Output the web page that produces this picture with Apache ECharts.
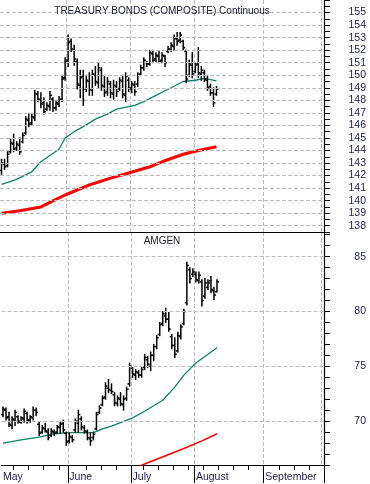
<!DOCTYPE html>
<html>
<head>
<meta charset="utf-8">
<script src="https://cdn.jsdelivr.net/npm/echarts@6/dist/echarts.min.js"></script>
<style>
  html, body { margin: 0; padding: 0; background: #fff; }
  #chart { width: 370px; height: 484px; }
</style>
</head>
<body>
<div id="chart"></div>
<script>
// trading days shown on the x axis (May 1 .. Oct 1)
const tradingDays = [
  ['May', [1,2,3,4,7,8,9,10,11,14,15,16,17,18,21,22,23,24,25,29,30,31]],
  ['June', [1,4,5,6,7,8,11,12,13,14,15,18,19,20,21,22,25,26,27,28,29]],
  ['July', [2,3,5,6,9,10,11,12,13,16,17,18,19,20,23,24,25,26,27,30,31]],
  ['August', [1,2,3,6,7,8,9,10,13,14,15,16,17,20,21,22,23,24,27,28,29,30,31]],
  ['September', [4,5,6,7,10,11,12,13,14,17,18,19,20,21,24,25,26,27,28]],
  ['October', [1]]
];
const weekTicks = [4,9,14,19,28,33,38,47,52,57,62,67,72,77,82,92,97,102];

const bondTicks = [138,139,140,141,142,143,144,145,146,147,148,149,150,151,152,153,154,155];
const amgnTicks = [70,75,80,85];

// treasury bonds OHLC
const bondOpen = [142.4,142.9,142.8,143.9,144.5,144.2,144.4,144.7,145.4,146.4,
  146.2,146.6,148.5,148.0,147.8,147.3,147.5,148.1,147.4,147.7,
  148.1,149.8,151.2,152.7,152.0,151.1,149.2,149.9,148.9,149.5,
  148.8,150.0,149.4,150.4,149.1,148.7,149.3,148.5,149.1,148.9,
  149.5,148.4,149.6,148.9,149.2,149.3,150.1,150.6,151.0,150.9,
  151.7,151.3,151.5,151.2,151.5,151.9,152.0,152.3,152.9,152.8,
  152.7,151.9,150.0,150.8,150.3,150.9,150.1,150.2,149.6,149.1,
  148.6,148.5];
const bondHigh = [143.3,143.3,143.9,144.9,145.3,144.7,145.0,145.4,146.7,146.9,
  146.9,148.8,148.7,148.6,148.2,147.8,148.7,148.2,148.0,148.3,
  150.0,151.4,153.2,152.9,152.4,151.3,150.4,150.4,150.0,150.2,
  150.4,150.7,151.0,150.6,150.0,149.8,149.5,149.6,149.5,149.8,
  150.0,150.2,149.8,149.5,149.5,150.2,150.8,151.4,151.1,152.0,
  152.0,151.8,151.9,151.8,151.6,152.3,152.6,153.2,153.4,153.4,
  152.8,152.0,151.2,151.8,151.0,152.2,150.7,150.4,150.0,149.3,
  149.0,149.1];
const bondLow = [142.1,142.5,142.7,143.8,143.9,144.0,143.7,144.6,145.3,145.9,
  146.0,146.4,147.9,147.4,146.9,147.2,147.2,147.1,147.2,147.5,
  147.9,149.6,150.7,151.9,150.8,148.9,148.2,147.6,148.7,148.4,
  148.4,149.2,149.0,148.8,148.3,148.4,148.2,148.1,148.3,148.8,
  148.2,147.9,148.7,148.6,148.4,149.1,150.0,150.4,150.7,150.8,
  151.0,151.1,151.0,151.0,150.7,151.8,151.9,152.0,152.4,152.6,
  152.0,149.4,149.9,149.8,150.2,149.8,149.6,149.5,148.8,148.4,
  147.5,148.4];
const bondClose = [143.0,142.7,143.7,144.6,144.1,144.5,143.9,145.2,146.5,146.1,
  146.7,148.5,148.1,147.7,147.1,147.6,148.4,147.4,147.8,148.0,
  149.7,151.1,152.6,152.1,151.3,149.3,149.8,148.0,149.6,148.9,
  150.1,149.5,150.6,149.2,148.6,149.5,148.6,149.2,148.7,149.6,
  148.5,149.9,149.0,149.3,148.7,150.0,150.6,151.2,150.9,151.8,
  151.2,151.6,151.1,151.6,151.0,152.1,152.4,153.0,152.7,153.2,
  152.2,149.7,150.9,150.1,150.8,150.2,150.4,149.7,149.0,148.6,
  147.8,148.9];
// moving averages, [day index, value]
const bondMaShort = [[0,141.3],[5,141.7],[10,142.3],[13,143.1],[16,143.6],[19,144.1],[21,145.0],
  [24,145.5],[27,145.9],[31,146.5],[35,146.9],[38,147.3],[44,147.6],[47,147.9],[51,148.4],
  [56,149.0],[60,149.5],[64,149.6],[67,149.75],[71,149.55]];
const bondMaLong = [[0,139.0],[6,139.2],[13,139.5],[18,140.1],[21,140.45],[25,140.85],[29,141.25],
  [36,141.8],[42,142.2],[49,142.7],[53,143.1],[60,143.7],[65,144.0],[71,144.3]];

// amgen OHLC
const amgnOpen = [70.6,71.0,70.4,69.6,70.1,70.4,69.9,70.2,70.7,70.1,
  70.3,71.0,69.7,69.0,69.3,69.0,68.7,69.0,69.0,69.4,
  69.8,68.9,68.2,68.5,69.2,69.8,70.2,69.4,69.0,68.4,
  68.5,69.3,70.8,71.5,72.2,73.0,72.8,72.4,71.6,72.0,
  71.5,72.1,73.4,74.8,74.2,74.4,74.2,74.9,75.6,75.0,
  76.0,76.8,77.9,78.9,79.6,79.3,77.7,76.9,76.4,77.7,
  78.9,80.8,83.8,83.4,83.4,82.8,82.7,81.4,82.2,82.8,
  81.9,81.8];
const amgnHigh = [71.3,71.2,70.8,70.4,71.0,70.5,70.4,71.1,70.8,70.5,
  71.3,71.2,69.9,69.6,69.8,69.3,69.3,69.2,69.6,69.9,
  70.1,69.0,68.9,68.7,70.2,71.0,70.4,69.6,69.2,68.9,
  69.0,70.8,71.4,72.3,73.5,73.8,73.4,72.6,72.3,72.6,
  72.3,73.1,75.3,74.9,74.7,74.6,74.9,76.1,75.9,76.3,
  77.0,77.8,79.0,80.0,80.3,79.9,77.9,77.6,78.1,78.8,
  80.2,84.5,84.0,83.9,83.6,83.6,82.9,83.0,82.9,83.2,
  82.2,82.9];
const amgnLow = [70.4,70.1,69.5,69.3,69.6,69.8,69.8,69.9,69.8,69.9,
  70.1,70.5,68.7,68.9,69.0,68.3,68.6,68.7,68.9,68.9,
  69.0,67.8,68.0,68.1,69.0,69.0,69.2,68.9,68.3,67.8,
  68.3,69.2,70.7,71.4,72.0,72.6,72.5,71.4,71.4,71.4,
  71.0,71.9,73.2,74.0,73.8,74.0,74.0,74.7,74.9,74.6,
  75.5,76.6,77.8,78.7,79.0,78.2,76.6,75.8,76.3,77.5,
  78.8,80.6,82.6,83.2,82.7,82.6,80.5,81.2,82.0,81.7,
  81.1,81.8];
const amgnClose = [71.1,70.3,69.7,70.2,70.8,70.0,70.3,70.9,70.1,70.4,
  71.0,70.8,68.9,69.4,69.1,68.5,69.1,68.9,69.5,69.7,
  69.2,68.1,68.6,68.3,70.0,70.6,69.5,69.1,68.5,68.2,
  68.8,70.6,71.2,72.1,73.2,72.9,72.7,71.7,72.1,71.6,
  72.0,72.9,75.0,74.3,74.5,74.2,74.7,75.8,75.2,76.0,
  76.8,77.6,78.8,79.8,79.3,78.4,76.9,76.1,77.8,78.6,
  80.0,84.2,83.0,83.6,82.9,83.3,81.0,82.6,82.6,82.0,
  81.5,82.7];
const amgnMaShort = [[0,68.0],[6,68.3],[12,68.55],[17,68.85],[22,68.95],[30,68.95],[33,69.3],
  [36,69.55],[43,70.3],[47,70.9],[50,71.4],[53,71.9],[57,73.1],[60,74.2],[64,75.3],
  [68,76.1],[71,76.7]];
const amgnMaLong = [[44,65.75],[48,66.2],[54,66.85],[60,67.5],[66,68.2],[71,68.85]];

const categories = [];
const monthStarts = [];
tradingDays.forEach(([m, days]) => {
  monthStarts.push(categories.length);
  days.forEach(d => categories.push(m + ' ' + d));
});

const font = 'Liberation Sans, Arial, sans-serif';
const textColor = '#1c1c4c';
const gridColor = '#bdbdbd';
const teal = '#10806c';

function ohlc(open, high, low, close) {
  return open.map((o, i) => [i, o, high[i], low[i], close[i]]);
}

function renderBar(params, api) {
  const i = api.value(0);
  const o = api.coord([i, api.value(1)]);
  const h = api.coord([i, api.value(2)]);
  const l = api.coord([i, api.value(3)]);
  const c = api.coord([i, api.value(4)]);
  const style = { stroke: '#000', lineWidth: 1.5 };
  return {
    type: 'group',
    children: [
      { type: 'line', shape: { x1: h[0], y1: h[1] - 0.5, x2: l[0], y2: l[1] + 0.5 }, style },
      { type: 'line', shape: { x1: o[0] - 2, y1: o[1], x2: o[0], y2: o[1] }, style },
      { type: 'line', shape: { x1: c[0], y1: c[1], x2: c[0] + 2, y2: c[1] }, style }
    ]
  };
}

function hGrid(ticks) {
  return {
    silent: true,
    symbol: ['none', 'none'],
    label: { show: false },
    lineStyle: { color: gridColor, type: [4, 2], width: 1 },
    data: ticks.map(v => ({ yAxis: v }))
  };
}

const monthSplit = {
  show: true,
  interval: (idx) => monthStarts.includes(idx) && idx > 0,
  lineStyle: { color: gridColor, type: [4, 2], width: 1 }
};

const chart = echarts.init(document.getElementById('chart'), null, { renderer: 'canvas' });
chart.setOption({
  backgroundColor: '#fff',
  animation: false,
  title: [
    {
      text: 'TREASURY BONDS (COMPOSITE) Continuous',
      left: 162, top: 6, padding: 0, textAlign: 'center',
      textStyle: { fontFamily: font, fontSize: 10, fontWeight: 'normal', color: '#1a1a30' }
    },
    {
      text: 'AMGEN',
      left: 162, top: 236, padding: 0, textAlign: 'center',
      textStyle: { fontFamily: font, fontSize: 10, fontWeight: 'normal', color: '#1a1a30' }
    }
  ],
  grid: [
    { left: 0, right: 46, top: 0, height: 232 },
    { left: 0, right: 46, top: 232, height: 233 }
  ],
  xAxis: [
    {
      gridIndex: 0, type: 'category', data: categories, boundaryGap: true,
      axisLine: { show: true, lineStyle: { color: '#000', width: 1.2 } },
      axisTick: { show: false }, axisLabel: { show: false },
      splitLine: monthSplit
    },
    {
      gridIndex: 1, type: 'category', data: categories, boundaryGap: true, position: 'bottom',
      axisLine: { show: true, lineStyle: { color: '#000', width: 1.2 } },
      axisTick: { show: true, interval: (idx) => weekTicks.includes(idx), length: 5, lineStyle: { color: '#000' } },
      axisLabel: {
        show: true, interval: (idx) => monthStarts.includes(idx) && idx < 100,
        formatter: (v) => v.split(' ')[0],
        align: 'left', margin: 7,
        fontFamily: font, fontSize: 10.5, color: textColor
      },
      splitLine: monthSplit
    },
    {
      gridIndex: 1, type: 'category', data: categories, boundaryGap: true, position: 'bottom',
      axisLine: { show: false },
      axisTick: { show: true, interval: (idx) => monthStarts.includes(idx) && idx > 0 && idx < 100, length: 18, lineStyle: { color: '#000' } },
      axisLabel: { show: false },
      splitLine: { show: false }
    }
  ],
  yAxis: [
    {
      gridIndex: 0, type: 'value', position: 'right',
      min: 137.5, max: 156, interval: 0.5,
      axisLine: { show: true, lineStyle: { color: '#000', width: 1.2 } },
      axisTick: { show: true, length: 6, lineStyle: { color: '#000' } },
      axisLabel: {
        formatter: (v) => bondTicks.includes(v) ? String(v) : '',
        align: 'right', margin: 42,
        fontFamily: font, fontSize: 10.5, color: textColor
      },
      splitLine: { show: false }
    },
    {
      gridIndex: 1, type: 'value', position: 'right',
      min: 66, max: 87.25, interval: 1,
      axisLine: { show: true, lineStyle: { color: '#000', width: 1.2 } },
      axisTick: { show: true, length: 6, lineStyle: { color: '#000' } },
      axisLabel: {
        formatter: (v) => amgnTicks.includes(v) ? String(v) : '',
        align: 'right', margin: 42,
        fontFamily: font, fontSize: 10.5, color: textColor
      },
      splitLine: { show: false }
    }
  ],
  series: [
    {
      name: 'bond 50', type: 'line', xAxisIndex: 0, yAxisIndex: 0, z: 1,
      data: bondMaShort, showSymbol: false, symbol: 'none',
      lineStyle: { color: teal, width: 1.3 },
      markLine: hGrid(bondTicks)
    },
    {
      name: 'bond 200', type: 'line', xAxisIndex: 0, yAxisIndex: 0, z: 2,
      data: bondMaLong, showSymbol: false, symbol: 'none',
      lineStyle: { color: '#ff0000', width: 3 }
    },
    {
      name: 'bond', type: 'custom', xAxisIndex: 0, yAxisIndex: 0, z: 3,
      data: ohlc(bondOpen, bondHigh, bondLow, bondClose),
      encode: { x: 0, y: [1, 2, 3, 4] },
      renderItem: renderBar
    },
    {
      name: 'amgn 50', type: 'line', xAxisIndex: 1, yAxisIndex: 1, z: 1,
      data: amgnMaShort, showSymbol: false, symbol: 'none',
      lineStyle: { color: teal, width: 1.3 },
      markLine: hGrid(amgnTicks)
    },
    {
      name: 'amgn 200', type: 'line', xAxisIndex: 1, yAxisIndex: 1, z: 2, clip: true,
      data: amgnMaLong, showSymbol: false, symbol: 'none',
      lineStyle: { color: '#ff0000', width: 1.5 }
    },
    {
      name: 'amgn', type: 'custom', xAxisIndex: 1, yAxisIndex: 1, z: 3,
      data: ohlc(amgnOpen, amgnHigh, amgnLow, amgnClose),
      encode: { x: 0, y: [1, 2, 3, 4] },
      renderItem: renderBar
    }
  ]
});
</script>
</body>
</html>
